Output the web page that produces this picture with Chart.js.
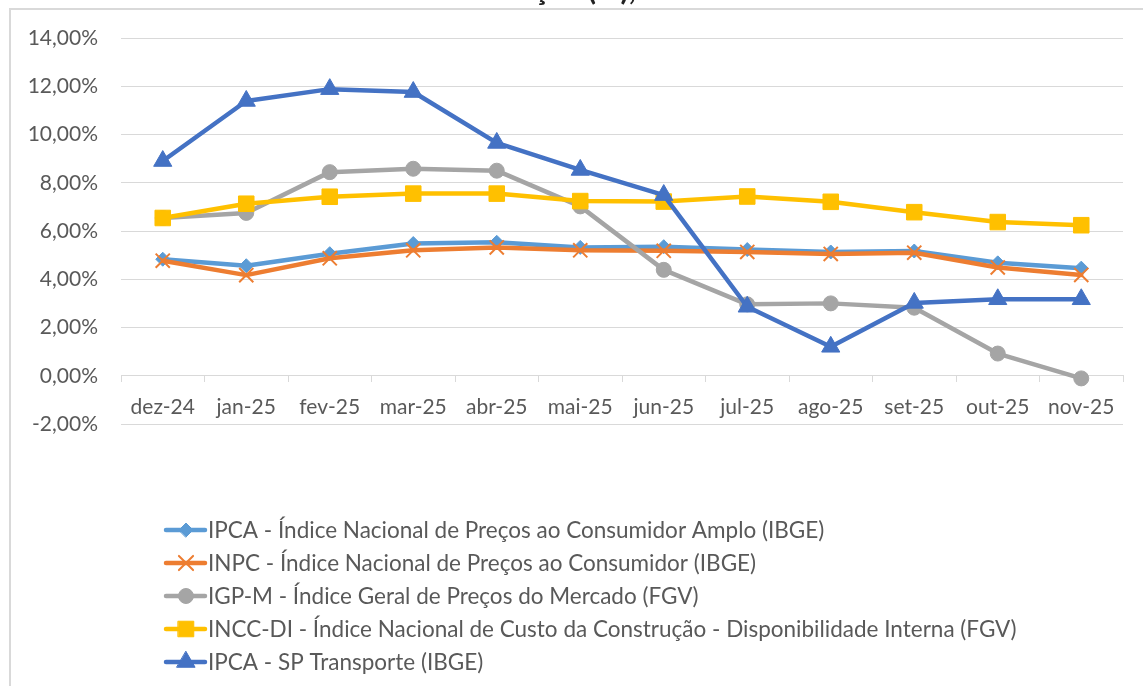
<!DOCTYPE html>
<html lang="pt-BR">
<head>
<meta charset="utf-8">
<title>Índices de Inflação</title>
<script src="https://cdn.jsdelivr.net/npm/chart.js@4/dist/chart.umd.min.js"></script>
<style>
  html, body { margin: 0; padding: 0; background: #fff; }
  #wrap { position: relative; width: 1143px; height: 686px; overflow: hidden; }
  #frame { position: absolute; left: 9px; top: 8px; right: -10px; bottom: -10px;
           border-left: 2px solid #d9d9d9; border-top: 2px solid #d9d9d9; }
  #chart { position: absolute; left: 0; top: 0; }
</style>
</head>
<body>
<div id="wrap">
  <div id="frame"></div>
  <canvas id="chart" width="1143" height="686"></canvas>
</div>
<script>
const months = ['dez-24', 'jan-25', 'fev-25', 'mar-25', 'abr-25', 'mai-25',
                'jun-25', 'jul-25', 'ago-25', 'set-25', 'out-25', 'nov-25'];

// acumulado em 12 meses, %
const ipca       = [4.83, 4.56, 5.06, 5.48, 5.53, 5.32, 5.35, 5.23, 5.13, 5.17, 4.68, 4.46];
const inpc       = [4.77, 4.17, 4.87, 5.20, 5.32, 5.20, 5.18, 5.13, 5.05, 5.10, 4.49, 4.18];
const igpm       = [6.54, 6.75, 8.44, 8.58, 8.50, 7.02, 4.39, 2.96, 3.00, 2.82, 0.92, -0.11];
const inccdi     = [6.54, 7.13, 7.42, 7.55, 7.55, 7.24, 7.22, 7.43, 7.21, 6.78, 6.37, 6.24];
const transporte = [8.90, 11.39, 11.88, 11.76, 9.65, 8.53, 7.49, 2.86, 1.20, 3.02, 3.17, 3.17];

const yTicks = [-2, 0, 2, 4, 6, 8, 10, 12, 14];

const titleText = 'Gráfico 1 - Índices de Inflação (%), acumulado em 12 meses';

const FONT = 'Lato';
const TEXT = '#595959';
const GRID = '#d9d9d9';

function pct(v) {
  return v.toFixed(2).replace('.', ',') + '%';
}

function series(label, data, color, style, radius, order) {
  return {
    label: label,
    data: data,
    order: order,
    borderColor: color,
    backgroundColor: color,
    borderWidth: 4.5,
    borderJoinStyle: 'round',
    borderCapStyle: 'round',
    tension: 0,
    pointStyle: style,
    pointRadius: radius,
    pointHoverRadius: radius,
    pointBackgroundColor: color,
    pointBorderColor: color,
    pointBorderWidth: style === 'crossRot' ? 2 : 1
  };
}

// legend drawn as line + marker, the way the spreadsheet does it
const lineLegend = {
  id: 'lineLegend',
  afterDraw(chart) {
    const ctx = chart.ctx;
    ctx.save();

    // title sits mostly above the canvas edge
    ctx.font = 'bold 30px ' + FONT;
    ctx.fillStyle = '#222';
    ctx.textAlign = 'center';
    ctx.textBaseline = 'alphabetic';
    ctx.fillText(titleText, 578, -0.5);

    ctx.font = '22.5px ' + FONT;
    ctx.textAlign = 'left';
    ctx.textBaseline = 'middle';
    chart.data.datasets.forEach((ds, i) => {
      const y = 530 + i * 33;
      ctx.strokeStyle = ds.borderColor;
      ctx.fillStyle = ds.backgroundColor;
      ctx.lineWidth = 4.5;
      ctx.lineCap = 'round';
      ctx.beginPath();
      ctx.moveTo(166, y);
      ctx.lineTo(205, y);
      ctx.stroke();
      ctx.lineWidth = ds.pointBorderWidth;
      Chart.helpers.drawPoint(ctx, {
        pointStyle: ds.pointStyle,
        radius: ds.pointRadius,
        borderWidth: ds.pointBorderWidth,
        rotation: 0
      }, 186, y);
      ctx.fillStyle = TEXT;
      ctx.fillText(ds.label, 208, y + 1);
    });
    ctx.restore();
  }
};

new Chart(document.getElementById('chart'), {
  type: 'line',
  data: {
    labels: months,
    datasets: [
      series('IPCA - Índice Nacional de Preços ao Consumidor Amplo (IBGE)', ipca, '#5B9BD5', 'rectRot', 7, 5),
      series('INPC - Índice Nacional de Preços ao Consumidor (IBGE)', inpc, '#ED7D31', 'crossRot', 10, 4),
      series('IGP-M - Índice Geral de Preços do Mercado (FGV)', igpm, '#A5A5A5', 'circle', 7.5, 3),
      series('INCC-DI - Índice Nacional de Custo da Construção - Disponibilidade Interna (FGV)', inccdi, '#FFC000', 'rect', 11, 2),
      series('IPCA - SP Transporte (IBGE)', transporte, '#4472C4', 'triangle', 10.5, 1)
    ]
  },
  options: {
    responsive: false,
    animation: false,
    events: [],
    layout: { padding: { top: 38, right: 20, bottom: 262, left: 0 } },
    plugins: {
      legend: { display: false },
      title: { display: false },
      tooltip: { enabled: false }
    },
    scales: {
      x: {
        type: 'category',
        offset: true,
        position: { y: 0 },
        afterFit(scale) { scale.height = 0; },
        grid: { offset: true, drawOnChartArea: false, drawTicks: true, tickLength: 6, color: GRID },
        border: { color: GRID, width: 1 },
        ticks: { color: TEXT, font: { family: FONT, size: 21 }, padding: 13, maxRotation: 0, autoSkip: false }
      },
      y: {
        min: -2,
        max: 14,
        afterBuildTicks(scale) { scale.ticks = yTicks.map(v => ({ value: v })); },
        afterFit(scale) { scale.width = 121; },
        grid: { color: GRID, lineWidth: 1, drawTicks: false },
        border: { display: false },
        ticks: { color: TEXT, font: { family: FONT, size: 21 }, padding: 23, callback: v => pct(v) }
      }
    }
  },
  plugins: [lineLegend]
});
</script>
</body>
</html>
